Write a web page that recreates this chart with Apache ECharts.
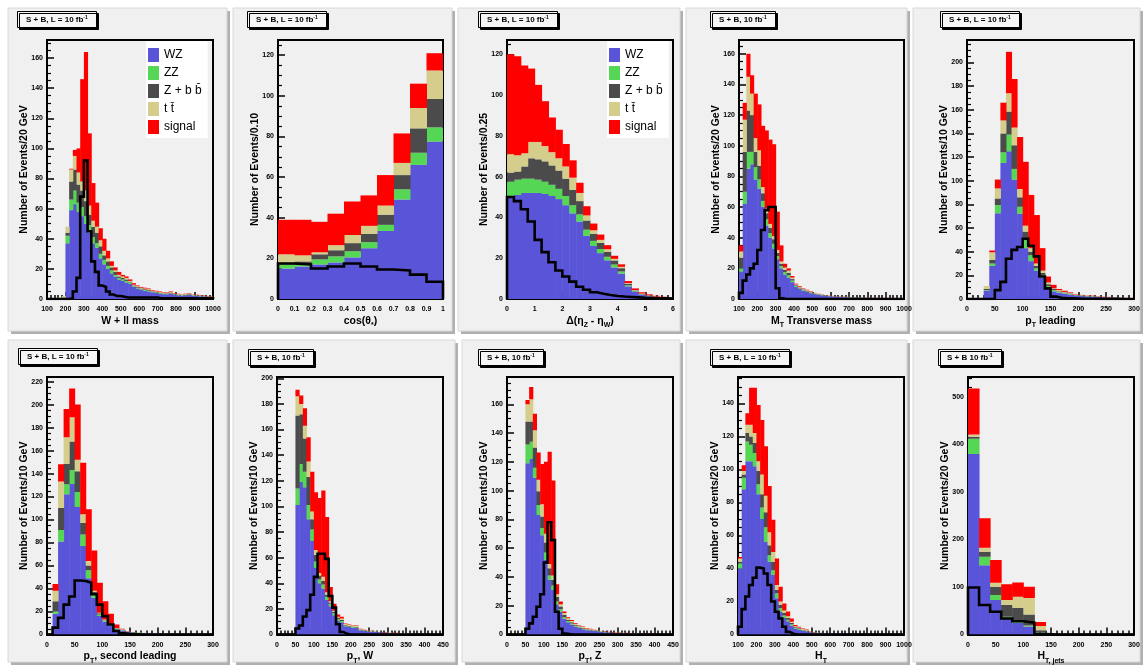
<!DOCTYPE html>
<html><head><meta charset="utf-8">
<script src="https://cdn.jsdelivr.net/npm/echarts@6/dist/echarts.min.js"></script>
<style>html,body{margin:0;padding:0;background:#fff}#c{width:1145px;height:668px}</style>
</head><body><div id="c"></div>
<script>
// ---------------- DATA (values per bin) ----------------
// Panel 1: W + ll mass, bins of 20 GeV from 100
const wllWZ  = [0,0,0,0.5,1,37,59,63,58,55,50,44,37,34,27,23,20,17,15,13,12,11,10,8,7,6,5.5,5,4.5,4,3.5,3.2,3.2,3.4,2.8,2.5,2.1,2.5,2.8,2.1,2.1,1.8,1.8,1.4,1.4];
const wllZZ  = [0,0,0,0,0,5,7,9,6,6,5,5,4,3,3,3,2,2,1,1,1,1,1,0.5,0.5,0.5,0.5,0.5,0.4,0.4,0.4,0.3,0.3,0.3,0.3,0.2,0.2,0.2,0.3,0.2,0.2,0.2,0.2,0.1,0.1];
const wllZbb = [0,0,0,0,0,2,12,14,12,11,10,7,7,7,5,3,3,2,2,1,1,1,0.5,0.5,0.5,0.5,0.5,0.5,0.3,0.3,0.3,0.3,0.3,0.3,0.3,0.3,0.2,0.3,0.3,0.2,0.2,0.2,0.2,0.2,0.2];
const wllTT  = [0,0,0,0.5,1,4,8,9,8,6,7,6,4,4,4,3,2,1,1,1,1,1,0.5,0.5,0.5,0.5,0.5,0.5,0.4,0.4,0.4,0.4,0.4,0.5,0.3,0.3,0.3,0.3,0.3,0.3,0.3,0.1,0.1,0.1,0.1];
const wllSig = [0,0,0,0,0,0,0.5,4,16,68,92,48,25,16,8,8,5,3,2,2,1,1,1,1,0.5,0.5,0.5,0.5,0.4,0.4,0.4,0.3,0.3,0.5,0.3,0.2,0.2,0.2,0.3,0.2,0.2,0.2,0.2,0.2,0.2];
const wllLine= [0,0,0,0,0,0,0.5,5,14,68,92,45,25,18,9,8,5,3,2,2,1.5,1,1,1,1,1,1,1,1,1,0.5,0.5,0.5,0.5,0.5,0.5,0.5,0.5,0.5,0.5,0.5,0.5,0.5,0.5,0.5];

// Panel 2: cos(theta*), bins of 0.1 from 0
const cosWZ  = [15,16,17,18,20.5,25,33.5,49,66,77.5];
const cosZZ  = [2,1,2.5,3,3,3,3,5,6,7];
const cosZbb = [1,1.5,2.5,3,4,4,5,7,12,14];
const cosTT  = [4,3,1,2.5,4,4,4.5,6,10,14];
const cosSig = [17,17.5,15,15.5,16.5,15,15,14.5,12,8.5];
const cosLine= [17.5,17,15,16,17.5,16,14.5,14,12,8.5];

// Panel 3: delta eta, bins of 0.25 from 0
const detaWZ  = [50,51,52,52,52,51.5,50.5,49,46,42,38,31,26,22.5,19,15.5,12.5,6.2,3.5,2.1,1.4,0.95,0.6,0.45];
const detaZZ  = [7.5,7.5,7,7,6.5,6,5.5,5,4.5,4,3.5,3,2.5,2,1.7,1.4,1,0.5,0.3,0.2,0.1,0.1,0.05,0.05];
const detaZbb = [4.5,4,6,10,10,10,9.5,9,8.5,7.5,6.5,4.5,3.5,3,2.5,2,1.6,0.7,0.4,0.25,0.2,0.1,0.1,0.05];
const detaTT  = [9,8,6.5,8,8.5,7.5,6.5,6,6,6,4,2.5,1.7,1.5,1.2,0.8,0.7,0.4,0.2,0.15,0.1,0.05,0.05,0.05];
const detaSig = [49,48.5,43,36,28,22,17,14,11,8.5,5,4.5,3.3,2.6,2,1.5,1.2,1,0.8,0.6,0.5,0.4,0.3,0.2];
const detaLine= [50,48,44,38,29,23,18,14,11,8.5,6,4.5,3.3,2.6,2,1.5,1.2,1,0.8,0.6,0.5,0.4,0.3,0.2];

// Panel 4: transverse mass, bins of 20 GeV from 100
const mtWZ  = [18,62,85,88,78,72,60,48,40,33,26,20,16,14,11,8,6.5,5.5,4.6,3.8,3.2,2.8,2.4,2,1.8,1.6,1.5,1.3,1.2,1.1,1,1,0.9,0.8,0.8,0.7,0.7,0.6,0.6,0.5,0.5,0.5,0.4,0.4,0.4];
const mtZZ  = [2,8,11,8,8,6,4,4,3,3,2,1.5,1.5,1.5,1,0.5,0.5,0.4,0.4,0.3,0.3,0.2,0.2,0.2,0.1,0.1,0.1,0.1,0.1,0.1,0.1,0.1,0.1,0.1,0.1,0.05,0.05,0.05,0.05,0.05,0.05,0.05,0.05,0.05,0.05];
const mtZbb = [7,26,27,24,10,9,5,4,3.5,3,2,1.5,1.5,1.5,1,0.5,0.5,0.4,0.4,0.3,0.2,0.2,0.2,0.2,0.1,0.1,0.1,0.1,0.1,0.1,0.1,0.1,0.1,0.1,0.1,0.05,0.05,0.05,0.05,0.05,0.05,0.05,0.05,0.05,0.05];
const mtTT  = [4,21,22,14,9,10,4,3,2.5,2,2,1.5,1.5,1.5,1,0.5,0.5,0.4,0.3,0.3,0.2,0.2,0.1,0.1,0.1,0.1,0.1,0.1,0.1,0.1,0.05,0.05,0.05,0.05,0.05,0.05,0.05,0.05,0.05,0.05,0.05,0.05,0.05,0.05,0.05];
const mtSig = [4,11,15,12,29,30,40,51,55,60,25,10.5,2.5,1.5,1,0.5,0.5,0.3,0.3,0.3,0.1,0.1,0.1,0.1,0.1,0.1,0.1,0.1,0.1,0.1,0.05,0.05,0.05,0.05,0.05,0.05,0.05,0.05,0.05,0.05,0.05,0.05,0.05,0.05,0.05];
const mtLine= [4,12,16,20,23,32,45,58,60,60,7,0.5,0,0,0,0,0,0,0,0,0,0,0,0,0,0,0,0,0,0,0,0,0,0,0,0,0,0,0,0,0,0,0,0,0];

// Panel 5: pT leading, bins of 10 GeV from 0
const ptlWZ  = [0,0,0,7,28,72.5,115,125,101,72,43,32,24,18,10,6.5,5.5,4.5,3.8,2.8,2.5,2.1,2,1.7,1.4,1.3,1.1,0.9,0.8,0.6];
const ptlZZ  = [0,0,0,0.5,2,7,9,14,9,6,8,5,2,2,1,1,0.5,0.5,0.4,0.3,0.3,0.2,0.2,0.2,0.1,0.1,0.1,0.1,0,0];
const ptlZbb = [0,0,0,1,3,5.5,16,19.5,20,8,6,3,2,2,1.5,1,0.5,0.5,0.4,0.3,0.3,0.3,0.2,0.2,0.2,0.1,0.1,0.1,0.1,0.1];
const ptlTT  = [0,0,0,2.5,6.5,8.5,11,15.5,15,7,5,3,2,2,1.5,0.5,1,0.5,0.4,0.2,0.2,0.2,0.3,0.2,0.1,0.1,0.1,0,0,0];
const ptlSig = [0,0,0,0,1.5,7.5,15,35,41,44,54,45,41,19,5,3,1,1,0.6,0.4,0.2,0.2,0.3,0.2,0.2,0.2,0.1,0.1,0.1,0.1];
const ptlLine= [0,0,0,0,0,7.5,14.5,34,41.5,44,51,45,36,19,9,2,1,0.5,0.5,0.3,0.2,0.2,0.2,0.1,0.1,0.1,0.1,0,0,0];

// Panel 6: pT second leading, bins of 10 GeV from 0
const pt2WZ  = [0,18,81,122,131,111,77,49,32,16,11,7.5,4.5,3.5,2.3,1.6,1.3,1.2,1,0.9,0.8,0.7,0.7,0.6,0.5,0.4,0.4,0.3,0.3,0.3];
const pt2ZZ  = [0,2,10,8.6,12,13,10,7,3,1.5,1,0.7,0.5,0.4,0.2,0.2,0.2,0.1,0.1,0.1,0.1,0.1,0,0,0,0,0,0,0,0];
const pt2Zbb = [0,9,19,18,25,18,10,4,2,1,0.5,0.5,0.4,0.3,0.2,0.2,0.1,0.1,0.1,0.1,0.1,0.1,0.1,0.1,0,0,0,0,0,0];
const pt2TT  = [0,9,23,23,21,10,7.5,4,1,0.5,0.5,0.3,0.3,0.3,0.2,0.1,0.1,0.1,0.1,0.1,0.1,0.1,0.1,0.1,0,0,0,0,0,0];
const pt2Sig = [0,6,15,24.5,25,48,45,45,35,26,16,9,3,0.5,0.1,0.1,0.1,0.1,0.1,0,0,0,0,0,0,0,0,0,0,0];
const pt2Line= [0,6,14.5,26,33,47,46.5,45,35,26,16,8.7,3,1,0.5,0.3,0,0,0,0,0,0,0,0,0,0,0,0,0,0];

// Panel 7: pT of W, bins of 10 GeV from 0
const ptwWZ  = [0,0,0,0,0,101,119,115,90,73,52,40,36,27,22,15,11,9.5,6.5,5.8,5.3,5,3.3,3,2.4,2.2,1.9,1.7,1.5,1.3,1.2,1.1,0.9,0.8,0.8,0.7,0.6,0.5,0.5,0.4,0.4,0.3,0.3,0.2,0.2];
const ptwZZ  = [0,0,0,0,0,13,14,12,11,9,5,3,3,2.5,2,1.5,1,1,0.5,0.5,0.5,0.5,0.3,0.3,0.2,0.2,0.2,0.1,0.1,0.1,0.1,0.1,0.1,0.1,0.1,0,0,0,0,0,0,0,0,0,0];
const ptwZbb = [0,0,0,0,0,57,39,26,22,8,5,3,3,1.5,1,1,0.8,1,0.5,0.5,0.4,0.4,0.3,0.2,0.2,0.2,0.2,0.1,0.1,0.1,0.1,0.1,0.1,0.1,0.1,0.1,0,0,0,0,0,0,0,0,0];
const ptwTT  = [0,0,0,0,0,15,8,10,12,6,4,2,3,2,1,1,1,1,0.6,0.6,1,0.8,0.4,0.3,0.2,0.2,0.2,0.2,0.1,0.1,0.1,0.1,0.1,0.1,0.1,0.1,0.1,0,0,0,0,0,0,0,0];
const ptwSig = [0,0,0,0,0,5,6.5,13.6,19,31,45,58.5,67.5,58.7,11,5.5,1.8,1.3,0.5,0.4,0.3,0.3,0.2,0.2,0.2,0.1,0.1,0.1,0.1,0.1,0.1,0.1,0.1,0.1,0.1,0.1,0.1,0.1,0.1,0.1,0.1,0.1,0.1,0.1,0.1];
const ptwLine= [0,0,0,0,0,4.7,7,14,19,31,45,63,63,59,30,21,8,2,0.5,0,0,0,0,0,0,0,0,0,0,0,0,0,0,0,0,0,0,0,0,0,0,0,0,0,0];

// Panel 8: pT of Z, bins of 10 GeV from 0
const ptzWZ  = [0,0,0,0,0,119,122,109,83,69,52,38,31,21,16,11,8.5,7,5.5,4.5,3.7,3,2.7,2.5,2.2,1.8,1.6,1.4,1.2,1.1,1,0.9,0.8,0.7,0.7,0.6,0.5,0.5,0.4,0.4,0.3,0.3,0.2,0.2,0.2];
const ptzZZ  = [0,0,0,0,0,13,12,7,7,5,5,3,3,2,1.5,1,0.8,0.7,0.6,0.5,0.4,0.3,0.3,0.2,0.2,0.2,0.2,0.1,0.1,0.1,0.1,0.1,0.1,0.1,0.1,0,0,0,0,0,0,0,0,0,0];
const ptzZbb = [0,0,0,0,0,16,14,14,9.5,8,7,5,4,3,2,1.5,1,0.8,0.7,0.6,0.5,0.4,0.3,0.3,0.2,0.2,0.2,0.2,0.2,0.1,0.1,0.1,0.1,0.1,0.1,0.1,0.1,0,0,0,0,0,0,0,0];
const ptzTT  = [0,0,0,0,0,12,15.5,12,8,8.5,6,3,3,2,1.5,1.5,1,0.8,0.7,0.5,0.6,0.5,0.4,0.3,0.2,0.2,0.1,0.1,0.1,0.1,0.1,0.1,0.1,0.1,0.1,0.1,0.1,0.1,0,0,0,0,0,0,0];
const ptzSig = [0,0,0,0,0,3,8.5,11.5,19,28,50,78,66,7,2,1,0.7,0.7,0.5,0.4,0.3,0.3,0.3,0.2,0.2,0.1,0.1,0.1,0.1,0.1,0.1,0.1,0.1,0.1,0.1,0.1,0.1,0.1,0.1,0.1,0.1,0.1,0.1,0.1,0.1];
const ptzLine= [0,0,0,0,0,4,7.7,12.3,19.3,28,50,78,65.6,15.8,4,0.7,0.3,0,0,0,0,0,0,0,0,0,0,0,0,0,0,0,0,0,0,0,0,0,0,0,0,0,0,0,0];

// Panel 9: H_T, bins of 20 GeV from 100
const htWZ  = [40,88,105,105,102,85,70,56,44,36,22,14,10,8,5.5,3.5,3,2.3,2,1.3,1.1,0.9,0.8,0.7,0.6,0.6,0.5,0.5,0.5,0.4,0.4,0.4,0.3,0.3,0.3,0.3,0.2,0.2,0.2,0.2,0.2,0.2,0.1,0.1,0.1];
const htZZ  = [3,7,12,10,8,6,7,9,4,3,3,2,1.5,1,0.7,0.4,0.4,0.3,0.2,0.1,0.1,0.1,0.1,0.1,0,0,0,0,0,0,0,0,0,0,0,0,0,0,0,0,0,0,0,0,0];
const htZbb = [1,2,5,5,6,8,8,9,6,5,2,2,1.5,1,0.7,0.5,0.4,0.3,0.2,0.2,0.1,0.1,0.1,0,0,0,0,0,0,0,0,0,0,0,0,0,0,0,0,0,0,0,0,0,0];
const htTT  = [2,2,5,7,6,6,12,10,8,6,3,2,1.5,1,0.8,0.6,0.5,0.4,0.3,0.1,0.1,0.1,0,0,0,0,0,0,0,0,0,0,0,0,0,0,0,0,0,0,0,0,0,0,0];
const htSig = [1,3.5,7,22.5,27.5,34,33,30,28,19.5,16,9,4.3,3,2,0.7,0.4,0.3,0.3,0.1,0.1,0,0,0,0,0,0,0,0,0,0,0,0,0,0,0,0,0,0,0,0,0,0,0,0];
const htLine= [4.7,15.4,23,30,34.4,40.5,40,37,30,20,13.8,9.7,4.7,1.6,0.5,0,0,0,0,0,0,0,0,0,0,0,0,0,0,0,0,0,0,0,0,0,0,0,0,0,0,0,0,0,0];

// Panel 10: H_T of jets, bins of 20 GeV from 0
const htjWZ  = [380,146,72.4,34,24,17,3,0,0,0,0,0,0,0,0];
const htjZZ  = [32,17.5,10.6,3.5,3,2,1,0,0,0,0,0,0,0,0];
const htjZbb = [4,10.5,17.6,24.5,29,23,5,0,0,0,0,0,0,0,0];
const htjTT  = [5,8.5,8.4,10.5,23.5,35,9,0,0,0,0,0,0,0,0];
const htjSig = [97,62,48,33.5,30,23.5,8.5,0,0,0,0,0,0,0,0];
const htjLine= [99,62,47.8,33.8,28,25,1,0,0,0,0,0,0,0,0];

const NAMES = ['WZ','ZZ','Z + b b\u0304','t t\u0304','signal'];

// ---------------- PANEL DEFINITIONS ----------------
const PANELS = [
 {lo:100,bw:20,xmin:100,xmax:1000,xint:100,ymax:172,yint:20,c:[wllWZ,wllZZ,wllZbb,wllTT,wllSig],line:wllLine,
  xname:'{b|W + ll mass}',yname:'Number of Events/20 GeV',label:'S + B, L = 10 fb{sup|-1}'},
 {lo:0,bw:0.1,xmin:0,xmax:1,xint:0.1,ymax:127.5,yint:20,c:[cosWZ,cosZZ,cosZbb,cosTT,cosSig],line:cosLine,
  xname:'{b|cos(\u03b8}{s|*}{b|)}',yname:'Number of Events/0.10',label:'S + B, L = 10 fb{sup|-1}'},
 {lo:0,bw:0.25,xmin:0,xmax:6,xint:1,ymax:127,yint:20,c:[detaWZ,detaZZ,detaZbb,detaTT,detaSig],line:detaLine,
  xname:'{b|\u0394(\u03b7}{s|Z}{b| - \u03b7}{s|W}{b|)}',yname:'Number of Events/0.25',label:'S + B, L = 10 fb{sup|-1}'},
 {lo:100,bw:20,xmin:100,xmax:1000,xint:100,ymax:169,yint:20,c:[mtWZ,mtZZ,mtZbb,mtTT,mtSig],line:mtLine,
  xname:'{b|M}{s|T}{b| Transverse mass}',yname:'Number of Events/20 GeV',label:'S + B, 10 fb{sup|-1}'},
 {lo:0,bw:10,xmin:0,xmax:300,xint:50,ymax:219,yint:20,c:[ptlWZ,ptlZZ,ptlZbb,ptlTT,ptlSig],line:ptlLine,
  xname:'{b|p}{s|T}{b| leading}',yname:'Number of Events/10 GeV',label:'S + B, L = 10 fb{sup|-1}'},
 {lo:0,bw:10,xmin:0,xmax:300,xint:50,ymax:224,yint:20,c:[pt2WZ,pt2ZZ,pt2Zbb,pt2TT,pt2Sig],line:pt2Line,
  xname:'{b|p}{s|T}{b|, second leading}',yname:'Number of Events/10 GeV',label:'S + B, L = 10 fb{sup|-1}'},
 {lo:0,bw:10,xmin:0,xmax:450,xint:50,ymax:201,yint:20,c:[ptwWZ,ptwZZ,ptwZbb,ptwTT,ptwSig],line:ptwLine,
  xname:'{b|p}{s|T}{b|, W}',yname:'Number of Events/10 GeV',label:'S + B, 10 fb{sup|-1}'},
 {lo:0,bw:10,xmin:0,xmax:450,xint:50,ymax:179,yint:20,c:[ptzWZ,ptzZZ,ptzZbb,ptzTT,ptzSig],line:ptzLine,
  xname:'{b|p}{s|T}{b|, Z}',yname:'Number of Events/10 GeV',label:'S + B, 10 fb{sup|-1}'},
 {lo:100,bw:20,xmin:100,xmax:1000,xint:100,ymax:156,yint:20,c:[htWZ,htZZ,htZbb,htTT,htSig],line:htLine,
  xname:'{b|H}{s|T}',yname:'Number of Events/20 GeV',label:'S + B, L = 10 fb{sup|-1}'},
 {lo:0,bw:20,xmin:0,xmax:300,xint:50,ymax:542,yint:100,c:[htjWZ,htjZZ,htjZbb,htjTT,htjSig],line:htjLine,
  xname:'{b|H}{s|T, jets}',yname:'Number of Events/20 GeV',label:'S + B 10 fb{sup|-1}'}
];

// ---------------- LAYOUT / STYLE ----------------
const FONT = '"Liberation Sans", Arial, Helvetica, sans-serif';
const COLORS = ['#5a55d8','#55d655','#4b4b4b','#d5cd8c','#ff0000'];
const LAYOUT = [
 {gl:47, gt:40, gw:166, gh:259, px:8,  py:8,  pw:219, ph:323, tl:17,  tt:11},
 {gl:278,gt:40, gw:165, gh:259, px:233,py:8,  pw:219, ph:323, tl:247, tt:11},
 {gl:507,gt:40, gw:166, gh:259, px:458,py:8,  pw:222, ph:323, tl:478, tt:11},
 {gl:739,gt:40, gw:165, gh:259, px:686,py:8,  pw:221, ph:323, tl:710, tt:11},
 {gl:967,gt:40, gw:167, gh:259, px:913,py:8,  pw:227, ph:323, tl:940, tt:11},
 {gl:47, gt:377,gw:166, gh:257.5,px:8,  py:340,pw:219, ph:322, tl:18,  tt:348},
 {gl:277,gt:377,gw:166, gh:257.5,px:233,py:340,pw:222, ph:322, tl:248, tt:349},
 {gl:507,gt:377,gw:166, gh:257.5,px:462,py:340,pw:218, ph:322, tl:478, tt:349},
 {gl:738,gt:377,gw:166, gh:257.5,px:686,py:340,pw:221, ph:322, tl:710, tt:349},
 {gl:968,gt:377,gw:166, gh:257.5,px:913,py:340,pw:227, ph:322, tl:938, tt:349}
];

const grid=[], xAxis=[], yAxis=[], series=[], title=[], elements=[];
const axisTxt = {fontSize:7, fontWeight:'bold', color:'#000', fontFamily:FONT};
const nameRich = {
  b:{fontSize:10.5, fontWeight:'bold', color:'#000', fontFamily:FONT, lineHeight:16},
  s:{fontSize:7, fontWeight:'bold', color:'#000', fontFamily:FONT, lineHeight:7, verticalAlign:'bottom'}
};
const fmtNum = (v)=>String(+(+v).toFixed(6));

PANELS.forEach((p,i)=>{
  const L = LAYOUT[i];
  elements.push({type:'rect', z:-20, silent:true, shape:{x:L.px+3,y:L.py+3,width:L.pw,height:L.ph}, style:{fill:'#b0b0b0'}});
  elements.push({type:'rect', z:-19, silent:true, shape:{x:L.px,y:L.py,width:L.pw,height:L.ph}, style:{fill:'#f0f0f0', stroke:'#d8d8d8', lineWidth:1}});
  grid.push({left:L.gl, top:L.gt, width:L.gw, height:L.gh, show:true, borderColor:'#000', borderWidth:2,
             backgroundColor:'transparent', containLabel:false, outerBoundsMode:'none'});
  xAxis.push({gridIndex:i, type:'value', min:p.xmin, max:p.xmax, interval:p.xint,
    axisLine:{show:true, onZero:false, lineStyle:{color:'#000', width:2}},
    axisTick:{show:true, inside:true, length:7, lineStyle:{color:'#000', width:1.5}},
    minorTick:{show:true, splitNumber:5, length:4, lineStyle:{color:'#000', width:1.5}},
    splitLine:{show:false}, minorSplitLine:{show:false},
    axisLabel:Object.assign({margin:7, hideOverlap:false, formatter:fmtNum}, axisTxt),
    name:p.xname, nameLocation:'middle', nameGap:14,
    nameTextStyle:{fontSize:10.5, fontWeight:'bold', color:'#000', fontFamily:FONT, rich:nameRich}});
  yAxis.push({gridIndex:i, type:'value', min:0, max:p.ymax, interval:p.yint,
    axisLine:{show:true, onZero:false, lineStyle:{color:'#000', width:2}},
    axisTick:{show:true, inside:true, length:7, lineStyle:{color:'#000', width:1.5}},
    minorTick:{show:true, splitNumber:(p.yint===100?5:4), length:4, lineStyle:{color:'#000', width:1.2}},
    splitLine:{show:false}, minorSplitLine:{show:false},
    axisLabel:Object.assign({margin:4, formatter:(v)=>{const r=v/p.yint; return Math.abs(r-Math.round(r))<1e-6 ? String(Math.round(v)) : '';}}, axisTxt),
    name:p.yname, nameLocation:'middle', nameGap:17, nameRotate:90, nameMoveOverlap:false,
    nameTextStyle:{fontSize:10.5, fontWeight:'bold', color:'#000', fontFamily:FONT}});
  // stacked histogram components
  const cum = p.c[0].map(()=>0);
  p.c.forEach((arr,ci)=>{
    const data=[];
    arr.forEach((v,k)=>{
      const x0 = p.lo + k*p.bw, b = cum[k];
      cum[k] += v;
      if (v>0) data.push([x0, x0+p.bw, b, cum[k]]);
    });
    const col = COLORS[ci];
    series.push({type:'custom', name:NAMES[ci], xAxisIndex:i, yAxisIndex:i, itemStyle:{color:col},
      encode:{x:[0,1], y:[2,3]}, data, clip:true, silent:true, z:2,
      renderItem:(params, api)=>{
        const a = api.coord([api.value(0), api.value(3)]);
        const c = api.coord([api.value(1), api.value(2)]);
        return {type:'rect', shape:{x:a[0], y:a[1], width:c[0]-a[0]+0.5, height:c[1]-a[1]}, style:{fill:col}};
      }});
  });
  // signal-only outline
  const n = p.line.length, xe = p.lo + n*p.bw;
  const pts = [[p.lo,0]];
  p.line.forEach((v,k)=>pts.push([p.lo+k*p.bw, v]));
  pts.push([xe, p.line[n-1]]); pts.push([xe, 0]);
  series.push({type:'line', name:'signal only', step:'end', data:pts, xAxisIndex:i, yAxisIndex:i,
    symbol:'none', showSymbol:false, silent:true, clip:true, z:5,
    lineStyle:{color:'#000', width:2.6, join:'miter'}});
  title.push({text:p.label, left:L.tl, top:L.tt, padding:[4,9,3,9], borderColor:'#000', borderWidth:1,
    backgroundColor:'#f6f6f6', shadowColor:'#000', shadowOffsetX:2, shadowOffsetY:2, shadowBlur:0,
    textStyle:{fontSize:8, fontWeight:'bold', color:'#000', fontFamily:FONT, lineHeight:10,
      rich:{sup:{fontSize:5, fontWeight:'bold', color:'#000', fontFamily:FONT, verticalAlign:'top', lineHeight:6}}}});
});

const legendBase = {orient:'vertical', top:41, itemWidth:11, itemHeight:14, itemGap:4, icon:'rect',
  selectedMode:false, backgroundColor:'#ffffff', padding:[7,6,4,2], data:NAMES,
  textStyle:{fontSize:12, color:'#000', fontFamily:FONT}};
const legend = [Object.assign({left:146}, legendBase), Object.assign({left:607}, legendBase)];

const chart = echarts.init(document.getElementById('c'), null, {renderer:'canvas'});
chart.setOption({animation:false, backgroundColor:'#ffffff', grid, xAxis, yAxis, series, title, legend,
  graphic:{elements}});
</script></body></html>
